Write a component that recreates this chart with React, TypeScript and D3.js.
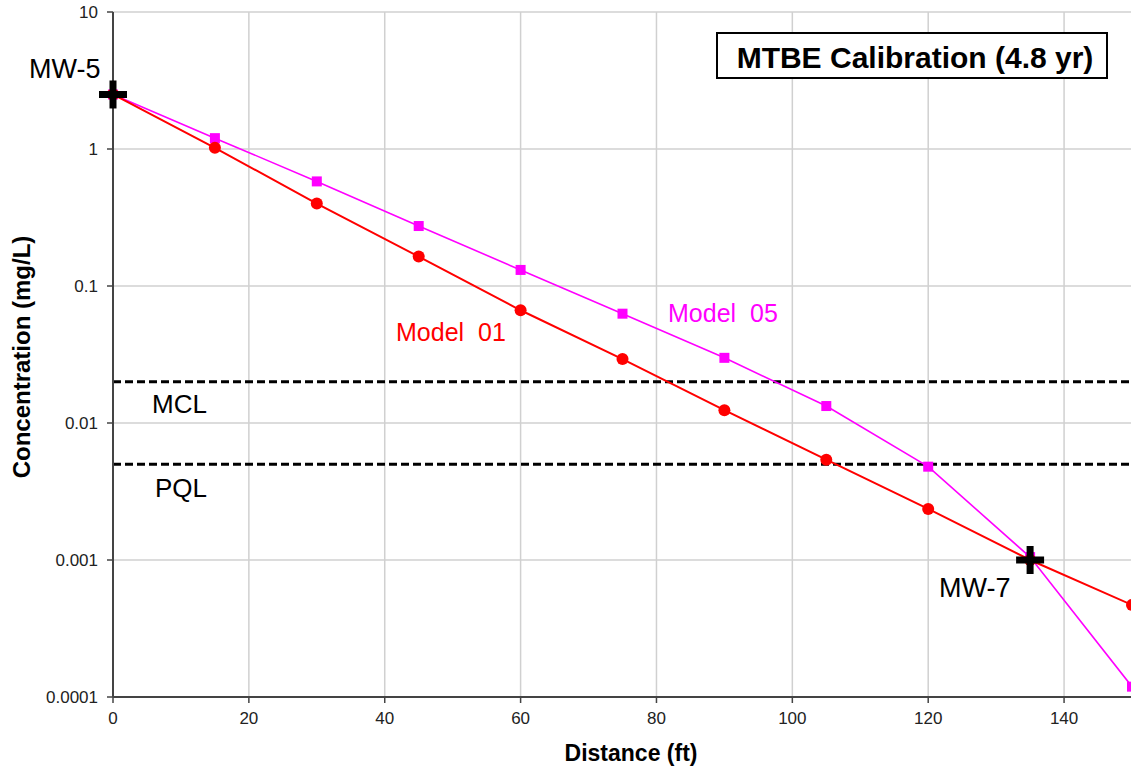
import React from 'react';
import * as d3 from 'd3';

// distances along flow path (ft)
const distance = [0, 15, 30, 45, 60, 75, 90, 105, 120, 135, 150];
const model01 = [2.5, 1.02, 0.4, 0.164, 0.0665, 0.0293, 0.0124, 0.0054, 0.00236, 0.001, 0.00047];
const model05 = [2.5, 1.2, 0.58, 0.274, 0.131, 0.0628, 0.0299, 0.0133, 0.0048, 0.00105, 0.000119];

// observed wells
const wellNames = ['MW-5', 'MW-7'];
const wellDistance = [0, 135];
const wellConc = [2.5, 0.001];

const limitNames = ['MCL', 'PQL'];
const limitValues = [0.02, 0.005];

const xTicks = [0, 20, 40, 60, 80, 100, 120, 140];
const yTicks = [10, 1, 0.1, 0.01, 0.001, 0.0001];
const yTickLabels = ['10', '1', '0.1', '0.01', '0.001', '0.0001'];

const W = 1131;
const H = 771;
const FONT = 'Arial, "Liberation Sans", sans-serif';

export default function App() {
  const x = d3.scaleLinear().domain([0, 150]).range([113, 1132]);
  const y = d3.scaleLog().domain([0.0001, 10]).range([697, 12]);

  const line = d3
    .line<number>()
    .x((d, i) => x(distance[i]))
    .y(d => y(d));

  const [x0, x1] = x.range();
  const [yb, yt] = y.range();

  return (
    <svg
      width={W}
      height={H}
      style={{ position: 'absolute', left: 0, top: 0, background: '#fff' }}
      fontFamily={FONT}
    >
      {/* grid */}
      {xTicks.slice(1).map(t => (
        <line key={'gx' + t} x1={x(t)} x2={x(t)} y1={yt} y2={yb} stroke="#d0d0d0" strokeWidth={1.5} />
      ))}
      {yTicks.slice(0, -1).map(t => (
        <line key={'gy' + t} x1={x0} x2={x1} y1={y(t)} y2={y(t)} stroke="#d0d0d0" strokeWidth={1.5} />
      ))}

      {/* limits */}
      {limitValues.map((v, i) => (
        <line
          key={limitNames[i]}
          x1={x0}
          x2={x1}
          y1={y(v)}
          y2={y(v)}
          stroke="#000"
          strokeWidth={3}
          strokeDasharray="8 4"
        />
      ))}

      {/* axes */}
      <line x1={x0} x2={x0} y1={yt} y2={yb} stroke="#444" strokeWidth={2} />
      <line x1={x0} x2={x1} y1={yb} y2={yb} stroke="#444" strokeWidth={2} />
      {yTicks.map((t, i) => (
        <g key={'yt' + t}>
          <line x1={x0 - 6} x2={x0} y1={y(t)} y2={y(t)} stroke="#444" strokeWidth={1.5} />
          <text x={x0 - 15} y={y(t)} dy="0.35em" textAnchor="end" fontSize={17} fill="#222">
            {yTickLabels[i]}
          </text>
        </g>
      ))}
      {xTicks.map(t => (
        <g key={'xt' + t}>
          <line x1={x(t)} x2={x(t)} y1={yb} y2={yb + 6} stroke="#444" strokeWidth={1.5} />
          <text x={x(t)} y={yb + 27} textAnchor="middle" fontSize={17} fill="#222">
            {t}
          </text>
        </g>
      ))}

      {/* series */}
      <path d={line(model05) || ''} fill="none" stroke="#ff00ff" strokeWidth={1.6} />
      <path d={line(model01) || ''} fill="none" stroke="#ff0000" strokeWidth={2} />
      {model05.map((v, i) => (
        <rect key={'m5' + i} x={x(distance[i]) - 5} y={y(v) - 5} width={10} height={10} fill="#ff00ff" />
      ))}
      {model01.map((v, i) => (
        <circle key={'m1' + i} cx={x(distance[i])} cy={y(v)} r={6} fill="#ff0000" />
      ))}

      {/* observed */}
      {wellConc.map((v, i) => (
        <g key={wellNames[i]} stroke="#000" strokeWidth={7}>
          <line x1={x(wellDistance[i]) - 14} x2={x(wellDistance[i]) + 14} y1={y(v)} y2={y(v)} />
          <line x1={x(wellDistance[i])} x2={x(wellDistance[i])} y1={y(v) - 14} y2={y(v) + 14} />
        </g>
      ))}

      {/* labels */}
      <text x={29} y={78} fontSize={27}>{wellNames[0]}</text>
      <text x={939} y={597} fontSize={27}>{wellNames[1]}</text>
      <text x={152} y={413} fontSize={26}>{limitNames[0]}</text>
      <text x={155} y={497} fontSize={26}>{limitNames[1]}</text>
      <text x={396} y={341} fontSize={25} fill="#ff0000" style={{ whiteSpace: 'pre' }}>
        {'Model  01'}
      </text>
      <text x={668} y={322} fontSize={25} fill="#ff00ff" style={{ whiteSpace: 'pre' }}>
        {'Model  05'}
      </text>

      {/* title box */}
      <rect x={717} y={33} width={390} height={45} fill="#fff" stroke="#000" strokeWidth={2} />
      <text x={915} y={68} textAnchor="middle" fontSize={30} fontWeight="bold">
        MTBE Calibration (4.8 yr)
      </text>

      {/* axis titles */}
      <text x={631} y={761} textAnchor="middle" fontSize={23} fontWeight="bold">
        Distance (ft)
      </text>
      <text
        transform="translate(30,357) rotate(-90)"
        textAnchor="middle"
        fontSize={24}
        fontWeight="bold"
      >
        Concentration (mg/L)
      </text>
    </svg>
  );
}
